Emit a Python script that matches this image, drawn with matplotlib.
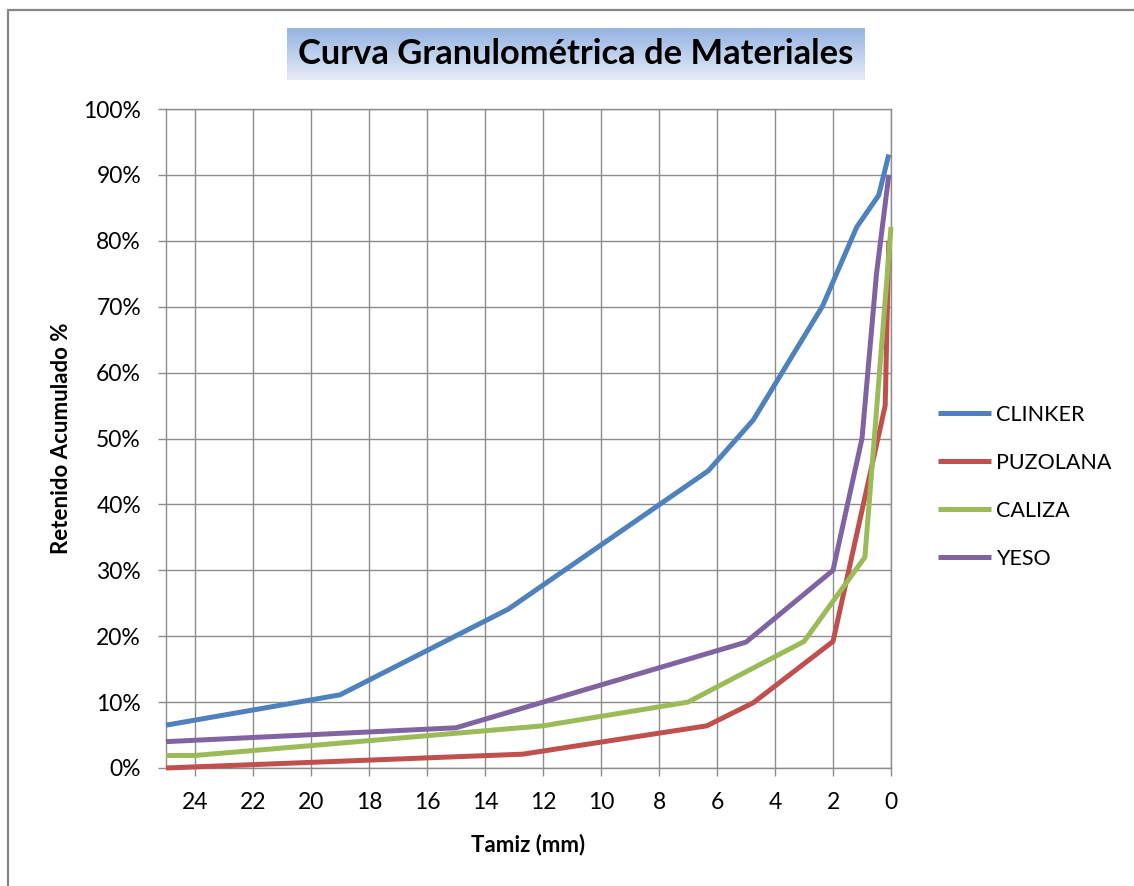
import matplotlib.pyplot as plt
import numpy as np
from matplotlib.patches import Rectangle
from matplotlib.ticker import PercentFormatter

plt.rcParams['font.family'] = ['Lato', 'DejaVu Sans']

# Tamiz (mm) y % retenido acumulado por material
clinker_x = [25, 19, 13.2, 6.3, 4.75, 2.36, 1.18, 0.425, 0.075]
clinker_y = [6.5, 11.1, 24.1, 45.1, 52.8, 70.1, 82.1, 86.9, 93.1]

puzolana_x = [25, 12.7, 6.35, 4.75, 2.0, 0.2, 0.075]
puzolana_y = [0.0, 2.1, 6.4, 9.9, 19.2, 55.0, 80.0]

caliza_x = [25, 24, 12, 7, 3, 0.9, 0.0]
caliza_y = [1.9, 1.9, 6.4, 10.0, 19.2, 32.0, 82.1]

yeso_x = [25, 15, 5, 2, 1, 0.5, 0.075]
yeso_y = [4.0, 6.1, 19.1, 30.0, 50.0, 75.0, 90.0]

series = [
    ('CLINKER', clinker_x, clinker_y, '#4F81BD'),
    ('PUZOLANA', puzolana_x, puzolana_y, '#C0504D'),
    ('CALIZA', caliza_x, caliza_y, '#9BBB59'),
    ('YESO', yeso_x, yeso_y, '#8064A2'),
]

W, H = 1134, 886
fig = plt.figure(figsize=(W / 100, H / 100), dpi=100)
ax = fig.add_axes([166 / W, 1 - 768 / H, (891 - 166) / W, (768 - 109) / H])

grid_col = '#8C8C8C'
for name, xs, ys, col in series:
    ax.plot(xs, ys, color=col, lw=3.6, label=name, clip_on=False,
            solid_joinstyle='round', solid_capstyle='butt', zorder=3)

ax.set_xlim(25, 0)
ax.set_ylim(0, 100)
ax.set_xticks(np.arange(24, -1, -2))
ax.set_yticks(np.arange(0, 101, 10))
ax.yaxis.set_major_formatter(PercentFormatter(100, decimals=0))
ax.grid(True, color=grid_col, lw=1.0, zorder=0)
ax.set_axisbelow(True)
for s in ax.spines.values():
    s.set_color(grid_col)
    s.set_linewidth(1.0)
ax.tick_params(axis='both', direction='out', length=6, width=1.0,
               color=grid_col, labelsize=16.5)
ax.tick_params(axis='y', pad=12)
ax.tick_params(axis='x', pad=11)

ax.set_xlabel('Tamiz (mm)', fontsize=16, fontweight='bold', labelpad=15)
ax.set_ylabel('Retenido Acumulado %', fontsize=16, fontweight='bold', labelpad=8)

ax.legend(loc='center left', bbox_to_anchor=(938 / W, 1 - 487 / H),
          bbox_transform=fig.transFigure, frameon=False, fontsize=15.5,
          handlelength=2.45, handletextpad=0.25, labelspacing=1.3,
          borderpad=0, borderaxespad=0)

# caja del titulo con degradado azul
tax = fig.add_axes([287 / W, 1 - 80 / H, (865 - 287) / W, 52 / H])
top = np.array([0x95, 0xB3, 0xE2]) / 255
bot = np.array([0xE6, 0xEC, 0xF7]) / 255
t = np.linspace(0, 1, 64)[:, None]
grad = (top * (1 - t) + bot * t)[:, None, :]
tax.imshow(grad, aspect='auto', extent=(0, 1, 0, 1))
tax.set_axis_off()
tax.text(0.5, 0.5, 'Curva Granulométrica de Materiales', ha='center',
         va='center', fontsize=24.8, fontweight='bold', transform=tax.transAxes)

# marco exterior del grafico
fig.patches.append(Rectangle((8 / W, -0.02), 1.2, 1 - 10 / H + 0.02,
                             transform=fig.transFigure, fill=False,
                             edgecolor='#868686', lw=1.6))

fig.savefig('out.png', dpi=100)
